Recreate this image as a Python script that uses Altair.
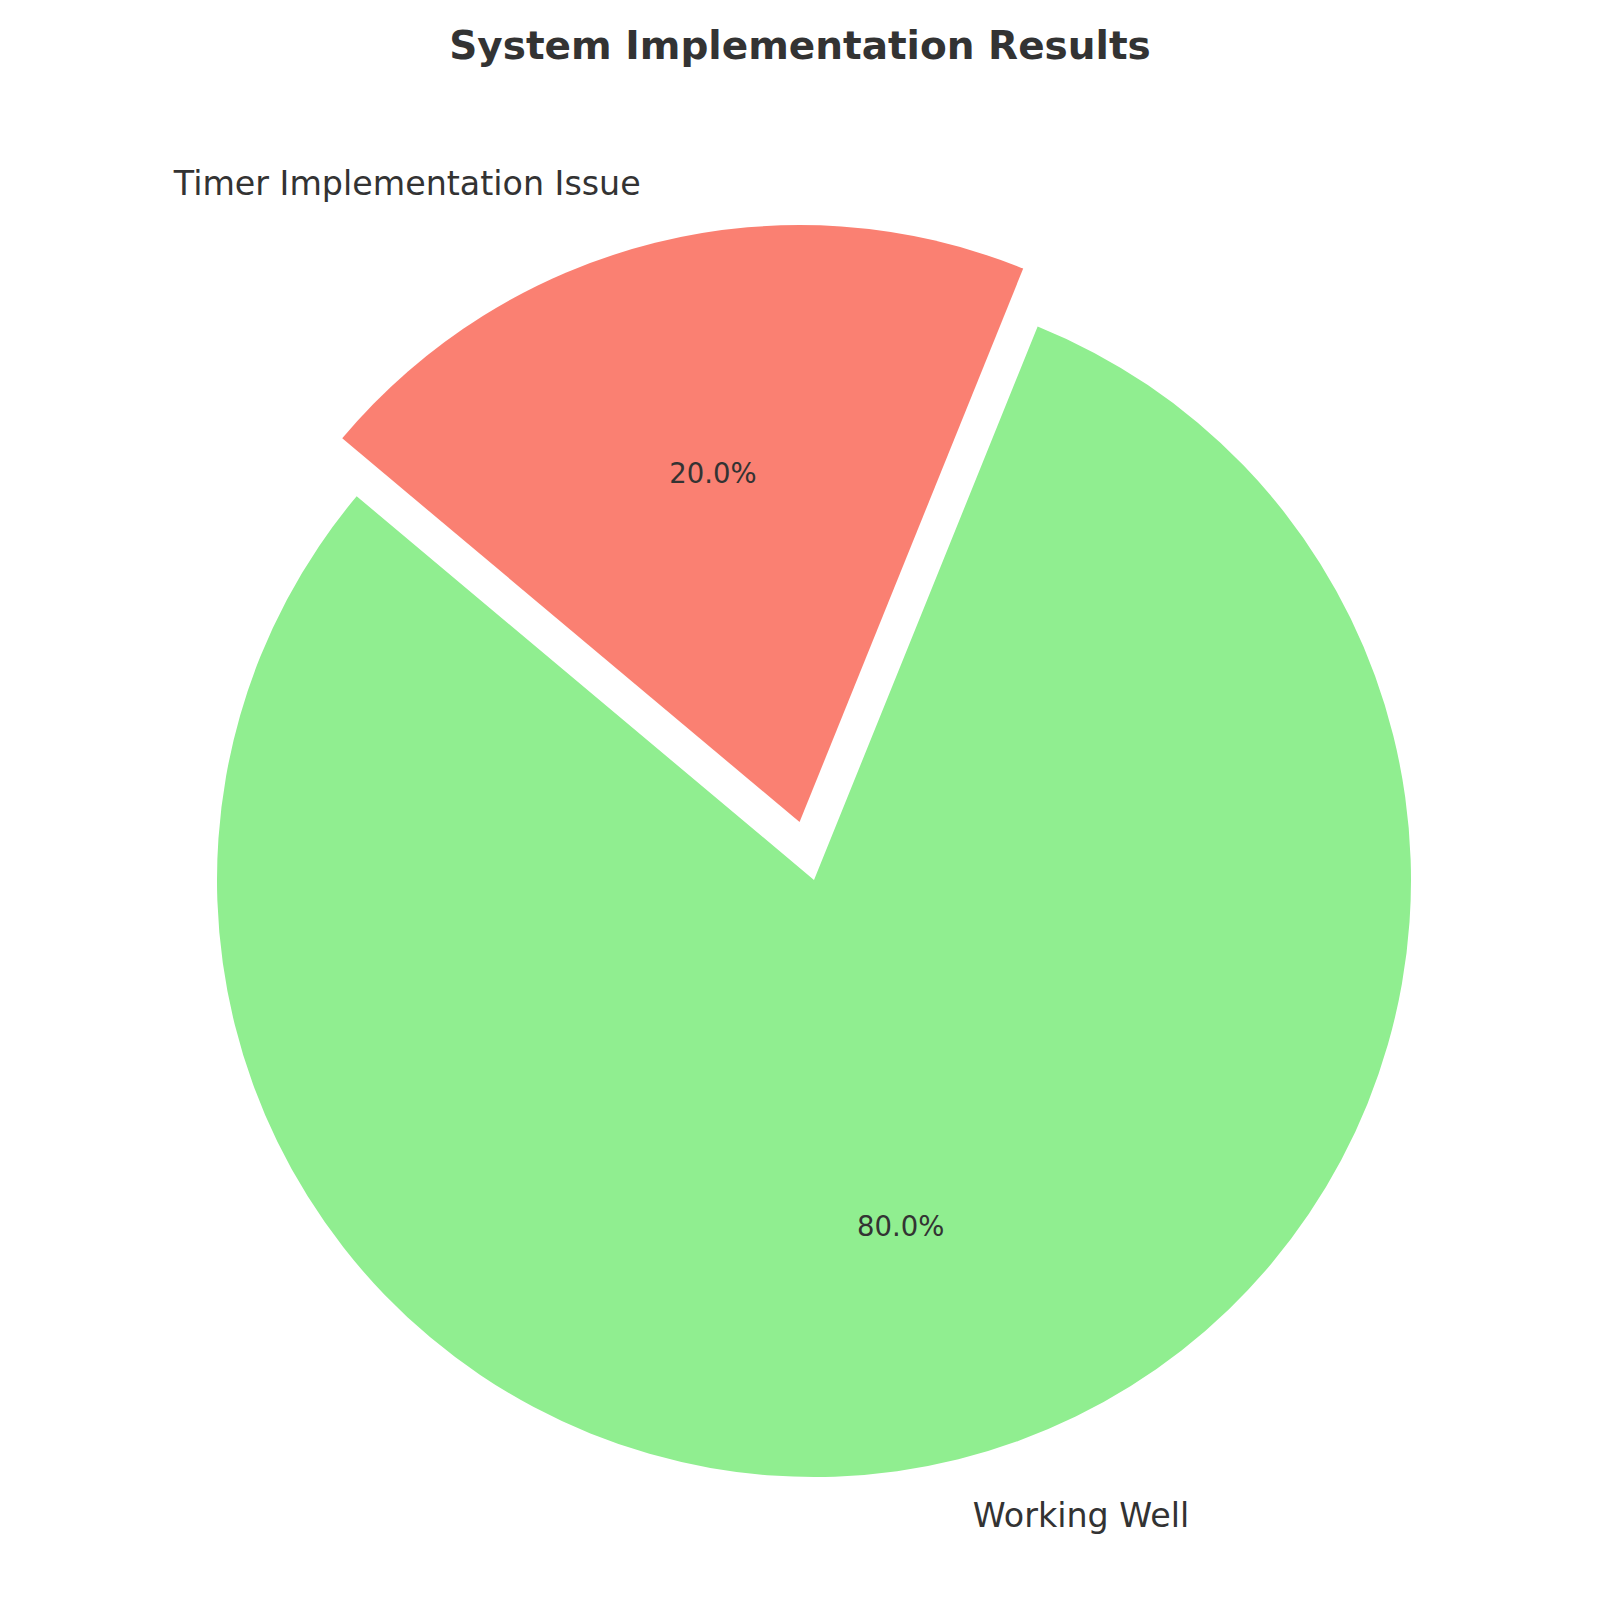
import math
import altair as alt
import pandas as pd

# Pie content
labels = ["Working Well", "Timer Implementation Issue"]
shares = [80, 20]
colors = ["#90EE90", "#FA8072"]
explode = [0.0, 0.1]
title_text = "System Implementation Results"

# Canvas and pie geometry
W = H = 1600
CX, CY, R = 814, 880, 597
START_DEG = 140  # counter-clockwise start, measured from the positive x axis
TEXT_COLOR = "#333333"
FONT = "DejaVu Sans"

df = pd.DataFrame({
    "label": labels,
    "share": shares,
    "order": list(range(len(labels))),
})

# Vega angles run clockwise from 12 o'clock; sweep counter-clockwise from START_DEG.
a0 = math.radians(90 - START_DEG + 720)
theta_scale = alt.Scale(domain=[0, 100], range=[a0, a0 - 2 * math.pi])

total = sum(shares)
base = (
    alt.Chart(df)
    .transform_stack(stack="share", groupby=[], as_=["s0", "s1"],
                     sort=[alt.SortField("order")])
    .transform_calculate(
        t0=f"datum.s0 / {total} * 100",
        t1=f"datum.s1 / {total} * 100",
        mid=f"(datum.s0 + datum.s1) / 2 / {total} * 100",
        pct="format(datum.share / %d * 100, '.1f') + '%%'" % total,
    )
)

layers = []
cum = 0.0
for lab, val, col, ex in zip(labels, shares, colors, explode):
    mid_frac = (cum + val / 2) / total
    cum += val
    ang = (90 - START_DEG) * math.pi / 180 - 2 * math.pi * mid_frac  # vega angle
    ux, uy = math.sin(ang), -math.cos(ang)
    dx, dy = ex * R * ux, ex * R * uy
    sel = base.transform_filter(alt.datum.label == lab)

    wedge = sel.mark_arc(outerRadius=R, color=col, xOffset=dx, yOffset=dy).encode(
        theta=alt.Theta("t0:Q", scale=theta_scale),
        theta2="t1:Q",
        x=alt.value(CX),
        y=alt.value(CY),
    )
    pct = sel.mark_text(
        font=FONT, fontSize=27.5, color=TEXT_COLOR, align="center", baseline="middle",
        xOffset=dx, yOffset=dy,
    ).encode(
        theta=alt.Theta("mid:Q", scale=theta_scale),
        radius=alt.value(0.6 * R),
        x=alt.value(CX),
        y=alt.value(CY),
        text="pct:N",
    )
    name = sel.mark_text(
        font=FONT, fontSize=33.3, color=TEXT_COLOR,
        align="left" if ux >= 0 else "right", baseline="middle",
        xOffset=dx, yOffset=dy,
    ).encode(
        theta=alt.Theta("mid:Q", scale=theta_scale),
        radius=alt.value(1.1 * R),
        x=alt.value(CX),
        y=alt.value(CY),
        text="label:N",
    )
    layers += [wedge, pct, name]

title = alt.Chart(pd.DataFrame({"t": [title_text]})).mark_text(
    font=FONT, fontSize=39, fontWeight="bold", color=TEXT_COLOR,
    align="center", baseline="middle",
).encode(x=alt.value(800), y=alt.value(47), text="t:N")

chart = (
    alt.layer(*layers, title)
    .properties(width=W, height=H, autosize=alt.AutoSizeParams(type="none"),
                padding=0, background="white")
    .configure_view(stroke=None)
)

chart.save("out.html", embed_options={"renderer": "svg", "actions": False})
